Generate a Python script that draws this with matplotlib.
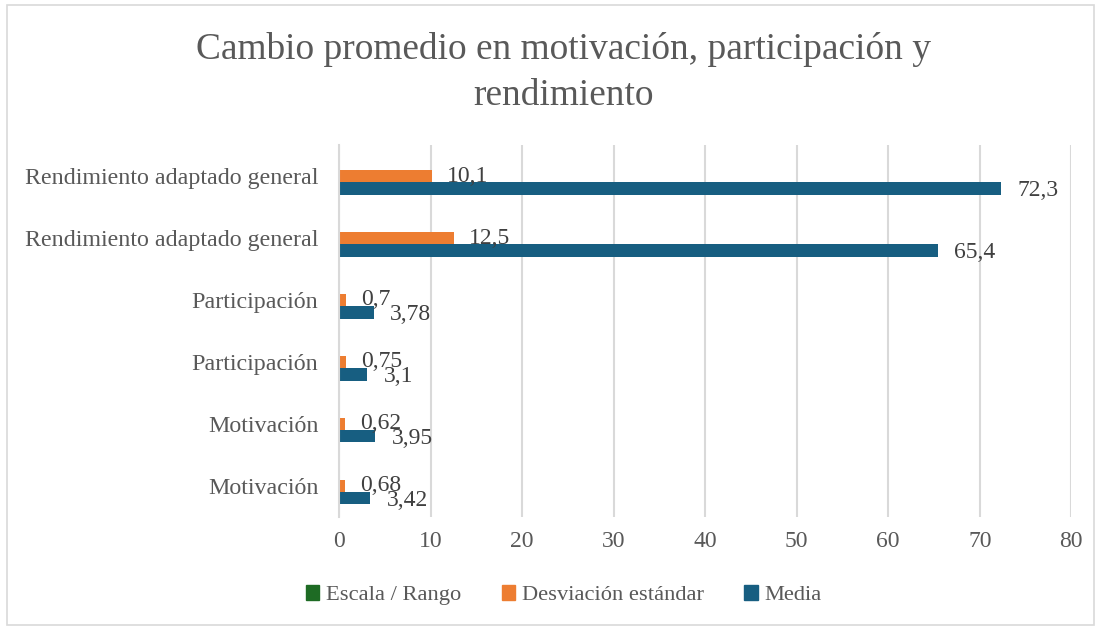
import matplotlib
matplotlib.use('Agg')
import matplotlib.pyplot as plt
import matplotlib.patches as mpatches
import numpy as np

plt.rcParams.update({
    'font.family': ['Liberation Serif', 'DejaVu Serif'],
    'text.color': '#595959',
})

# Data (bottom to top)
categories = ['Motivación', 'Motivación', 'Participación', 'Participación',
              'Rendimiento adaptado general', 'Rendimiento adaptado general']
media = [3.42, 3.95, 3.1, 3.78, 65.4, 72.3]
desviacion = [0.68, 0.62, 0.75, 0.7, 12.5, 10.1]
escala = [0, 0, 0, 0, 0, 0]
media_labels = ['3,42', '3,95', '3,1', '3,78', '65,4', '72,3']
desv_labels = ['0,68', '0,62', '0,75', '0,7', '12,5', '10,1']
xticks = [0, 10, 20, 30, 40, 50, 60, 70, 80]

C_GREEN = '#1E6B24'
C_ORANGE = '#ED7D31'
C_BLUE = '#175E81'
C_TEXT = '#595959'

fig = plt.figure(figsize=(11.01, 6.28), dpi=100)
ax = fig.add_axes([0.308, 0.177, 0.665, 0.592])

y = np.arange(len(categories))
h = 0.2
ax.barh(y + h, escala, height=h, color=C_GREEN, label='Escala / Rango')
ax.barh(y, desviacion, height=h, color=C_ORANGE, label='Desviación estándar')
ax.barh(y - h, media, height=h, color=C_BLUE, label='Media')

# data labels
for yi, v, t in zip(y, desviacion, desv_labels):
    ax.annotate(t, xy=(v, yi), xytext=(11, 0), textcoords='offset points',
                ha='left', va='center', fontsize=17, color='#404040')
for yi, v, t in zip(y, media, media_labels):
    ax.annotate(t, xy=(v, yi - h), xytext=(12, -1.5), textcoords='offset points',
                ha='left', va='center', fontsize=17, color='#404040')

ax.set_xlim(0, 80)
ax.set_ylim(-0.5, len(categories) - 0.5)
ax.set_xticks(xticks)
ax.set_xticklabels([str(t) for t in xticks])
ax.set_yticks(y)
ax.set_yticklabels(categories)
ax.tick_params(axis='x', length=0, pad=10, labelsize=17, labelcolor=C_TEXT)
ax.tick_params(axis='y', length=0, pad=15, labelsize=17.3, labelcolor=C_TEXT)

ax.grid(axis='x', color='#D9D9D9', linewidth=1.5)
ax.set_axisbelow(True)
for s in ['top', 'right', 'bottom']:
    ax.spines[s].set_visible(False)
ax.spines['left'].set_color('#D9D9D9')
ax.spines['left'].set_linewidth(1.5)

fig.text(0.512, 0.885, 'Cambio promedio en motivación, participación y\nrendimiento',
         ha='center', va='center', fontsize=26.9, color=C_TEXT, linespacing=1.45)

handles = [mpatches.Patch(color=C_GREEN, label='Escala / Rango'),
           mpatches.Patch(color=C_ORANGE, label='Desviación estándar'),
           mpatches.Patch(color=C_BLUE, label='Media')]
fig.legend(handles=handles, loc='center', bbox_to_anchor=(0.512, 0.052), ncol=3,
           frameon=False, fontsize=16.2, handlelength=0.6, handleheight=0.6,
           handletextpad=0.3, columnspacing=1.8, labelcolor=C_TEXT)

# outer chart border
fig.patches.append(mpatches.Rectangle((0.006, 0.005), 0.988, 0.987, transform=fig.transFigure,
                                      fill=False, edgecolor='#D9D9D9', linewidth=1.2))

fig.savefig('out.png', dpi=100)
